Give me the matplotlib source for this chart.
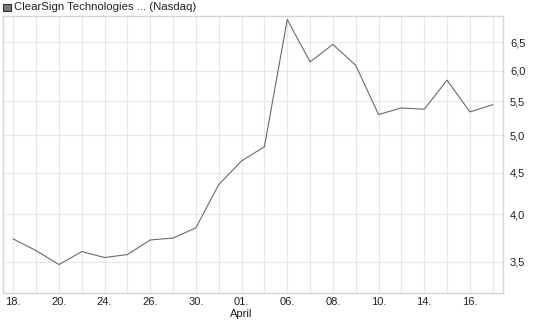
import matplotlib
matplotlib.use("Agg")
import matplotlib.pyplot as plt
from matplotlib.ticker import FixedLocator, NullLocator, FixedFormatter
import matplotlib.transforms as mtrans

plt.rcParams['font.family'] = ['Liberation Sans', 'DejaVu Sans']

# trading days, 18. March .. 17. April
days = ['18.', '19.', '20.', '23.', '24.', '25.', '26.', '27.', '30.', '31.',
        '01.', '02.', '06.', '07.', '08.', '09.', '10.', '13.', '14.', '15.',
        '16.', '17.']
prices = [3.73, 3.61, 3.47, 3.60, 3.54, 3.57, 3.72, 3.74, 3.85, 4.35,
          4.65, 4.84, 6.93, 6.15, 6.46, 6.09, 5.30, 5.40, 5.38, 5.84,
          5.34, 5.45]
yticks = [3.5, 4.0, 4.5, 5.0, 5.5, 6.0, 6.5]
ytick_labels = ['3,5', '4,0', '4,5', '5,0', '5,5', '6,0', '6,5']
title = 'ClearSign Technologies ... (Nasdaq)'
month_label = 'April'

fig = plt.figure(figsize=(5.45, 3.27), dpi=100)
ax = fig.add_axes([3 / 545, (327 - 293.3) / 327, 500 / 545, (293.3 - 16) / 327])

x = list(range(len(prices)))
ax.plot(x, prices, color='#6a6a6a', linewidth=0.8, zorder=3)

ax.set_yscale('log')
ax.set_ylim(3.2, 7.0)
ax.set_xlim(-0.45, len(prices) - 1 + 0.45)

ax.yaxis.set_major_locator(FixedLocator(yticks))
ax.yaxis.set_minor_locator(NullLocator())
ax.yaxis.set_major_formatter(FixedFormatter(ytick_labels))
ax.yaxis.tick_right()

ax.set_xticks(x)
ax.set_xticklabels([d if i % 2 == 0 else '' for i, d in enumerate(days)])
ax.xaxis.set_minor_locator(NullLocator())

ax.tick_params(axis='both', length=0, labelsize=8, colors='#222222')
ax.tick_params(axis='y', pad=5)
ax.tick_params(axis='x', pad=3)

ax.grid(True, color='#e8e8e8', linewidth=0.9, zorder=0)
ax.set_axisbelow(True)
for sp in ax.spines.values():
    sp.set_color('#d4d4d4')
    sp.set_linewidth(1.0)

# month label under the 01. tick
trans = mtrans.blended_transform_factory(ax.transData, fig.transFigure)
ax.text(days.index('01.'), 1 - 314 / 327, month_label, transform=trans,
        ha='center', va='center', fontsize=8, color='#222222')

# title with small legend square
fig.patches.append(plt.Rectangle((3 / 545, 1 - 11 / 327), 7.5 / 545, 7.5 / 327,
                                 transform=fig.transFigure, facecolor='#7a7a7a',
                                 edgecolor='#333333', linewidth=0.8))
fig.text(14.5 / 545, 1 - 7.5 / 327, title, ha='left', va='center',
         fontsize=8.2, color='#222222')

fig.savefig('out.png', dpi=100)
